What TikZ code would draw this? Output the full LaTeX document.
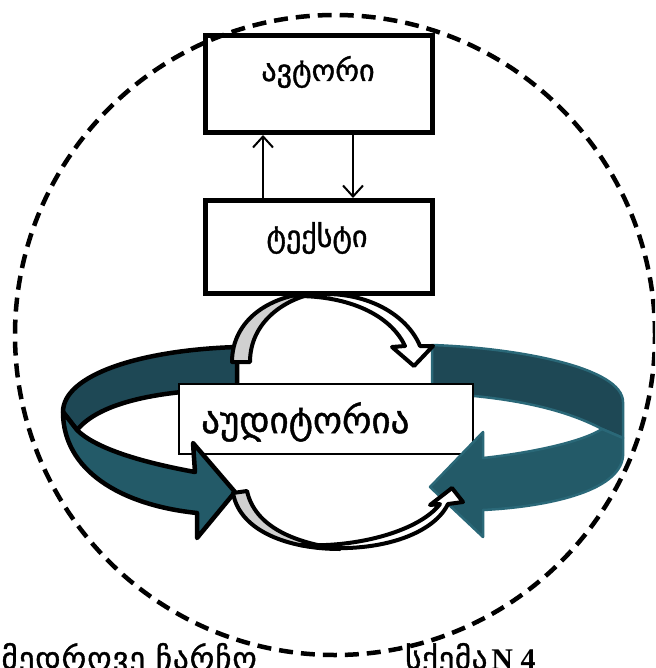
\documentclass[tikz,border=0pt]{standalone}
\usepackage{fontspec}
\setmainfont{Liberation Serif}
\newfontfamily\geo[FakeBold=1.2]{DejaVu Sans}
\usetikzlibrary{arrows.meta}
\definecolor{tealdark}{HTML}{1E4855}
\definecolor{teallight}{HTML}{235A68}
\definecolor{tealedge}{HTML}{2A6878}
\definecolor{shade}{HTML}{D0D0D0}
\begin{document}
\begin{tikzpicture}[x=1pt,y=-1pt,
  boxframe/.style={draw=black, line width=5pt, fill=white, minimum width=227pt,
    minimum height=97pt, inner sep=0pt},
  audframe/.style={draw=black, line width=2pt, fill=white, minimum width=294pt,
    minimum height=70pt, inner sep=0pt},
  gtext/.style={inner sep=0pt, font=\geo},
  link/.style={line width=2pt, -{Straight Barb[length=11pt,width=20pt]}},
  ribbonL/.style={draw=black, line width=4.5pt, line join=round},
  ribbonR/.style={draw=tealedge, line width=2.5pt, line join=round},
  bentarrow/.style={draw=black, line width=4pt, line join=round},
  dashring/.style={draw=black, line width=4.5pt, dash pattern=on 14pt off 8pt}]
\useasboundingbox (0,0) rectangle (655,668);
\clip (0,0) rectangle (655,668);

% back halves of the two ribbons
\filldraw[ribbonL, fill=tealdark] (237,347) .. controls (140,350) and (63,375) .. (63,412)
  -- (77,430) .. controls (100,402) and (160,390) .. (237,389) -- cycle;
\filldraw[ribbonR, fill=tealdark] (432,345) .. controls (520,348) and (623,368) .. (623,402)
  -- (623,438) -- (602,429) .. controls (570,412) and (520,397) .. (432,393) -- cycle;

% upper bent arrow
\filldraw[bentarrow, fill=shade] (232,362) .. controls (232,320) and (270,293) .. (322,292)
  .. controls (285,297) and (250,322) .. (250,362) -- cycle;
\filldraw[bentarrow, fill=white] (300,296) .. controls (362,286) and (407,314) .. (420,346)
  -- (433,346) -- (414,366) -- (392,347) -- (405,346)
  .. controls (392,318) and (355,297) .. (300,296) -- cycle;

% boxes
\node[boxframe] (author) at (319,84) {};
\node[gtext] (authorText) at (318,72) {\fontsize{30}{34}\selectfont ავტორი};
\node[boxframe, minimum height=93pt] (text) at (319,247) {};
\node[gtext] (textText) at (317,238) {\fontsize{30}{34}\selectfont ტექსტი};
\draw[link] ([xshift=-56pt]text.north) -- ([xshift=-56pt]author.south);
\draw[link] ([xshift=34pt]author.south) -- ([xshift=34pt]text.north);

\node[audframe] (audience) at (326,419) {};
\node[gtext, anchor=west] (audienceText) at (201,422) {\fontsize{37}{40}\selectfont აუდიტორია};

% front halves with arrowheads
\filldraw[ribbonL, fill=teallight] (63,412) .. controls (63,470) and (120,505) .. (197,513)
  -- (197,538) -- (235,492) -- (193,443) -- (195,472)
  .. controls (140,462) and (95,448) .. (77,430) -- cycle;
\filldraw[ribbonR, fill=teallight] (623,438) -- (623,456) .. controls (620,492) and (545,507) .. (483,510)
  -- (483,537) -- (430,487) -- (483,432) -- (483,458)
  .. controls (530,453) and (582,442) .. (602,429) -- cycle;

% lower bent arrow
\filldraw[bentarrow, fill=shade] (233,493) .. controls (240,532) and (290,549) .. (340,549)
  .. controls (295,543) and (255,527) .. (247,491) -- cycle;
\filldraw[bentarrow, fill=white] (300,545) .. controls (370,556) and (432,537) .. (448,504)
  -- (463,502) -- (452,488) -- (430,505) -- (440,504)
  .. controls (420,530) and (360,548) .. (300,545) -- cycle;

% enclosing frame
\draw[dashring] (335,335) circle[radius=320pt];

% captions
\node[gtext, anchor=base east] (frameLabel) at (257,669)
  {\fontsize{31}{34}\selectfont\addfontfeatures{LetterSpace=3}თანამედროვე ჩარჩო};
\node[inner sep=0pt, anchor=base west] (schemeLabel) at (405,669)
  {\fontsize{30}{34}\selectfont{\geo\fontsize{31}{34}\selectfont\addfontfeatures{LetterSpace=2}სქემა}\hspace{4pt}\bfseries N 4};
\end{tikzpicture}
\end{document}
